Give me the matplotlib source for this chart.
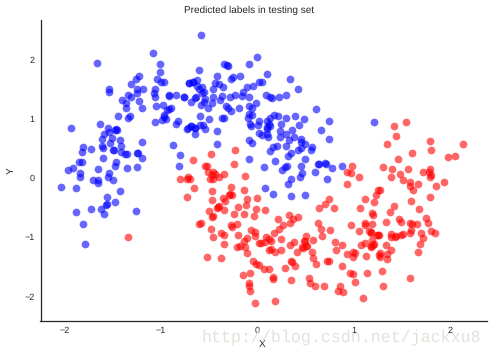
import matplotlib
matplotlib.use("Agg")
import matplotlib.pyplot as plt

title = "Predicted labels in testing set"
x_label = "X"
y_label = "Y"
x_ticks = [-2, -1, 0, 1, 2]
y_ticks = [-2, -1, 0, 1, 2]
watermark = "http://blog.csdn.net/jackxu8"

blue_points = [
(-1.08,2.11),(-1.66,1.95),(-1.01,1.92),(-1.01,1.79),(-1.22,1.72),(-1.26,1.68),(-1.04,1.67),(-1.0,1.62),(-0.965,1.63),(-1.31,1.58),
(-0.71,1.60),(-0.66,1.62),(-1.06,1.51),(-1.18,1.51),(-1.245,1.50),(-1.54,1.51),(-1.54,1.45),(-1.245,1.43),(-1.07,1.43),(-1.34,1.40),
(-1.31,1.36),(-1.06,1.36),(-0.91,1.40),(-0.91,1.38),(-0.84,1.40),(-0.76,1.37),(-0.755,1.37),(-1.40,1.31),(-1.225,1.30),(-1.36,1.26),
(-1.36,1.18),(-1.19,1.19),(-1.05,1.21),(-0.975,1.23),(-0.685,1.28),(-0.64,1.35),(-0.89,1.18),(-0.91,1.16),(-0.93,1.15),(-1.44,1.04),
(-1.32,1.04),(-1.34,1.01),(-0.965,1.06),(-0.965,1.03),(-0.945,1.0),(-0.985,0.98),(-1.06,0.94),(-0.84,0.92),(-0.82,0.96),(-1.63,0.92),
(-1.93,0.85),(-1.55,0.85),(-1.46,0.82),(-0.72,0.84),(-0.685,0.87),(-0.64,0.85),
(-1.54,0.78),(-1.47,0.805),(-1.45,0.805),(-1.59,0.74),(-1.505,0.67),(-1.61,0.65),(-1.42,0.64),(-1.525,0.59),(-1.19,0.60),(-1.81,0.52),
(-1.61,0.535),(-1.60,0.50),(-1.41,0.535),(-1.72,0.485),(-1.82,0.435),(-1.495,0.47),(-1.48,0.47),(-1.41,0.435),(-1.37,0.40),(-1.35,0.40),
(-1.245,0.43),(-1.235,0.43),(-1.19,0.33),(-1.60,0.33),(-0.87,0.55),(-0.80,0.38),(-0.81,0.20),(-1.85,0.265),(-1.82,0.265),(-1.46,0.265),
(-1.47,0.20),(-1.91,0.16),(-1.96,0.13),(-1.65,0.145),(-1.35,0.16),(-1.245,0.18),(-1.84,0.08),(-1.54,0.08),(-1.84,0.01),(-1.55,0.01),
(-1.70,-0.04),(-1.65,-0.04),(-1.65,-0.09),(-1.495,-0.04),(-2.035,-0.16),(-1.88,-0.17),(-1.42,-0.225),(-1.56,-0.33),(-1.47,-0.41),(-1.56,-0.445),
(-1.57,-0.46),(-1.72,-0.53),(-1.62,-0.53),(-1.88,-0.58),(-1.59,-0.61),(-1.255,-0.56),(-1.81,-0.78),(-1.78,-1.12),
(-0.58,2.41),(0.0,2.04),(-0.08,1.92),(-0.34,1.92),(-0.31,1.91),(-0.30,1.90),(-0.60,1.82),(-0.415,1.73),(-0.18,1.73),(0.10,1.75),
(-0.25,1.70),(-0.27,1.67),(-0.62,1.65),(-0.665,1.615),(-0.705,1.60),(0.05,1.615),(0.02,1.615),(-0.435,1.60),(-0.395,1.58),
(-0.04,1.55),(-0.10,1.53),(-0.35,1.53),(-0.62,1.55),(-0.57,1.53),(-0.46,1.50),(-0.60,1.50),(-0.57,1.43),(-0.55,1.45),(-0.145,1.45),
(-0.23,1.41),(-0.155,1.38),(-0.08,1.36),(-0.28,1.36),(0.09,1.41),(0.135,1.36),(-0.36,1.38),(-0.46,1.36),(-0.385,1.31),(-0.63,1.36),
(-0.54,1.33),(-0.55,1.29),(-0.47,1.26),(-0.58,1.24),(-0.01,1.26),
(-0.51,1.19),(-0.32,1.21),(-0.30,1.18),(-0.27,1.14),(-0.19,1.18),(-0.08,1.21),(-0.05,1.19),(-0.08,1.08),(-0.05,1.06),
(-0.09,1.01),(-0.59,1.04),(-0.50,0.99),(-0.36,1.01),(-0.34,1.01),(0.02,0.97),(0.10,0.96),(0.135,1.01),(-0.06,0.87),(0.01,0.89),
(-0.07,0.91),(0.10,0.86),(0.135,0.87),(-0.73,0.82),(-0.685,0.87),(-0.64,0.84),(-0.59,0.89),(-0.56,0.89),(-0.54,0.82),(-0.64,0.74),
(-0.415,0.79),(0.02,0.755),(0.05,0.72),(0.10,0.74),(0.115,0.69),(-0.08,0.64),(-0.05,0.59),(-0.415,0.57),(-0.08,0.315),(0.135,0.45),(0.07,0.18),
(0.34,1.68),(0.425,1.50),(0.15,1.345),(0.23,1.36),(0.30,1.41),(0.61,1.16),(0.75,0.96),(1.215,0.94),(0.18,1.06),(0.22,1.04),
(0.30,1.02),(0.395,1.04),(0.49,0.99),(0.125,0.906),(0.25,0.906),(0.435,0.89),(0.10,0.82),(0.36,0.805),(0.665,0.805),(0.24,0.79),
(0.30,0.75),(0.24,0.70),(0.385,0.70),(0.75,0.65),(0.33,0.635),(0.455,0.65),(0.455,0.60),(0.50,0.57),(0.21,0.535),(0.30,0.535),
(0.165,0.52),(0.425,0.48),(0.455,0.50),(0.57,0.52),(0.56,0.47),(0.35,0.43),(0.32,0.37),(0.50,0.315),(0.19,0.28),(0.455,0.20),
(0.31,0.20),(0.29,0.18),(0.26,0.13),(0.47,0.08),(0.45,0.01),(0.35,-0.02),(0.63,0.23),(0.645,0.23),(0.705,0.25),(0.72,0.23),
(0.78,0.16),(0.60,0.095),(0.88,0.20),(0.73,-0.01),(0.32,-0.107),(0.08,-0.175),(0.165,-0.276),(0.35,-0.31),(0.50,-0.29),
]

red_points = [
(-1.34,-1.0),(-0.48,0.40),(-0.23,0.47),(-0.665,0.30),(-0.24,0.23),(-0.54,0.21),(-0.52,0.20),(-0.51,0.10),(-0.46,0.10),(-0.435,0.06),
(-0.47,0.045),(-0.34,0.06),(-0.395,0.01),(-0.125,0.03),(-0.715,0.01),(-0.80,-0.02),(-0.73,-0.02),(-0.695,-0.02),(-0.49,-0.02),(-0.46,-0.02),
(0.985,0.20),(0.935,0.095),(0.975,0.08),(1.06,0.01),
(-0.27,-0.16),(-0.135,-0.21),(-0.47,-0.225),(-0.65,-0.175),(-0.73,-0.33),(-0.29,-0.28),(-0.26,-0.28),(-0.28,-0.275),(-0.35,-0.34),(-0.33,-0.395),
(-0.10,-0.36),(0.0,-0.345),(-0.47,-0.38),(-0.11,-0.46),(-0.20,-0.495),(-0.39,-0.48),(-0.415,-0.51),(-0.405,-0.495),(-0.34,-0.55),(-0.50,-0.56),
(-0.01,-0.53),(0.08,-0.55),(-0.24,-0.615),(-0.135,-0.615),(-0.03,-0.65),(-0.456,-0.65),(-0.47,-0.665),(-0.58,-0.77),(-0.60,-0.78),(-0.21,-0.78),
(-0.27,-0.80),(-0.26,-0.83),(-0.48,-0.87),(-0.06,-0.885),(-0.37,-0.935),(-0.34,-0.97),(-0.02,-0.92),(-0.02,-0.985),(-0.20,-0.97),(-0.456,-1.0),
(-0.10,-1.02),(0.094,-1.0),(0.125,-1.04),(-0.135,-1.07),(0.08,-1.09),(0.02,-1.10),(0.04,-1.10),(-0.34,-1.12),(-0.21,-1.17),(-0.175,-1.155),(-0.125,-1.17),
(-0.52,-1.34),(-0.375,-1.36),(-0.10,-1.27),(-0.04,-1.41),(-0.01,-1.46),(0.02,-1.475),(0.07,-1.54),(0.125,-1.54),(-0.07,-1.61),(-0.145,-1.64),
(-0.08,-1.78),(-0.08,-1.83),(-0.07,-1.915),(-0.02,-2.12),(0.125,-1.215),
(0.935,-0.107),(1.12,-0.36),(1.236,-0.29),(1.257,-0.21),(1.215,-0.41),(0.75,-0.36),(0.705,-0.445),(0.645,-0.51),(0.80,-0.51),(1.07,-0.51),
(1.195,-0.60),(0.33,-0.63),(0.425,-0.665),(0.374,-0.70),(0.22,-0.70),(0.34,-0.77),(0.27,-0.80),(0.63,-0.77),(0.975,-0.80),(1.12,-0.77),
(1.12,-0.80),(1.195,-0.78),(0.23,-0.87),(0.18,-0.935),(0.665,-0.87),(0.758,-0.885),(1.06,-0.90),(1.16,-0.90),(1.18,-0.92),(1.246,-0.97),
(0.675,-0.985),(0.51,-0.985),(0.25,-1.04),(0.145,-1.07),(0.58,-1.05),(0.50,-1.07),(0.49,-1.06),(0.385,-1.09),(0.81,-1.09),(0.34,-1.14),
(0.88,-1.14),(1.12,-1.10),(1.195,-1.05),(1.08,-1.14),(1.18,-1.155),(0.51,-1.155),(0.47,-1.17),(0.145,-1.205),(0.25,-1.22),
(1.215,-1.12),(0.52,-1.154),(0.48,-1.19),(0.82,-1.22),(0.57,-1.255),(0.187,-1.255),(0.415,-1.255),(0.935,-1.29),(0.997,-1.255),(1.018,-1.27),
(0.997,-1.34),(1.13,-1.32),(1.267,-1.306),(0.58,-1.36),(0.35,-1.41),(0.36,-1.425),(0.727,-1.41),(0.748,-1.41),(0.61,-1.46),(0.395,-1.49),
(0.88,-1.49),(0.29,-1.525),(0.966,-1.61),(1.0,-1.627),(1.142,-1.61),(0.166,-1.68),(0.166,-1.70),(0.54,-1.695),(0.35,-1.73),(0.55,-1.78),
(1.018,-1.76),(0.60,-1.83),(0.696,-1.83),(0.862,-1.83),(0.84,-1.915),(0.893,-1.93),(1.10,-2.03),(0.187,-2.08),
(1.423,0.873),(1.547,0.94),(1.443,0.704),(1.35,0.569),(1.797,0.62),(2.14,0.569),(1.807,0.468),(1.61,0.417),(1.983,0.349),(2.056,0.366),
(1.464,0.316),(1.308,0.18),(1.40,0.147),(1.568,0.147),(1.797,0.147),(1.724,0.096),(1.786,0.096),(1.807,0.045),(1.797,0.012),(1.485,0.062),
(1.39,0.012),(1.516,-0.039),(1.942,-0.073),(1.59,-0.073),(1.672,-0.106),(1.59,-0.14),(1.859,-0.14),(1.62,-0.208),(1.277,-0.208),(1.797,-0.326),
(1.60,-0.394),(1.423,-0.478),(1.68,-0.53),
(1.38,-0.58),(1.205,-0.63),(1.755,-0.68),(1.475,-0.70),(1.495,-0.75),(1.34,-0.75),(1.776,-0.766),(1.59,-0.766),(1.61,-0.783),(1.66,-0.783),
(1.60,-0.884),(1.807,-0.90),(1.848,-0.935),(1.70,-0.935),(1.59,-0.935),(1.516,-0.95),(1.495,-0.97),(1.443,-0.986),(1.433,-1.0),(1.39,-0.95),
(1.39,-1.0),(1.267,-0.97),(1.256,-0.97),(1.184,-0.935),(1.724,-1.02),(1.69,-1.12),(1.34,-1.138),(1.205,-1.138),(1.184,-1.17),(1.39,-1.22),
(1.67,-1.256),(1.277,-1.273),(1.35,-1.29),(1.277,-1.34),(1.35,-1.374),(1.30,-1.58),(1.59,-1.695),(1.308,-1.83),
]

plt.rcParams["font.family"] = ["Liberation Sans", "DejaVu Sans"]
plt.rcParams["text.hinting"] = "none"
W, H = 493, 357
fig = plt.figure(figsize=(W / 72, H / 72), dpi=72, facecolor="white")
ax = fig.add_axes([40.5 / W, 1 - 320.5 / H, (486.7 - 40.5) / W, (320.5 - 20) / H])

for pts, col in ((blue_points, "blue"), (red_points, "red")):
    ax.scatter([p[0] for p in pts], [p[1] for p in pts], s=60, c=col, alpha=0.6,
               linewidths=0, zorder=3)

ax.set_xlim(-2.246, 2.382)
ax.set_ylim(-2.41, 2.67)
ax.set_xticks(x_ticks)
ax.set_yticks(y_ticks)
ax.tick_params(length=0, labelsize=9, colors="#262626", pad=6)
for side in ("top", "right"):
    ax.spines[side].set_visible(False)
for side in ("left", "bottom"):
    ax.spines[side].set_linewidth(1.25)
    ax.spines[side].set_color("#262626")

fig.text(249 / W, 1 - 10 / H, title, ha="center", va="center", fontsize=10, color="#262626")
fig.text(262 / W, 1 - 344 / H, x_label, ha="center", va="center", fontsize=10, color="#262626")
fig.text(11 / W, 1 - 171 / H, y_label, ha="center", va="center", rotation=90, fontsize=10, color="#262626")
fig.text(341.5 / W, 1 - 337 / H, watermark, ha="center", va="center", fontsize=16.6,
         family="Liberation Mono", color="#e2e2dc", zorder=5)

fig.savefig("out.png", dpi=72)
